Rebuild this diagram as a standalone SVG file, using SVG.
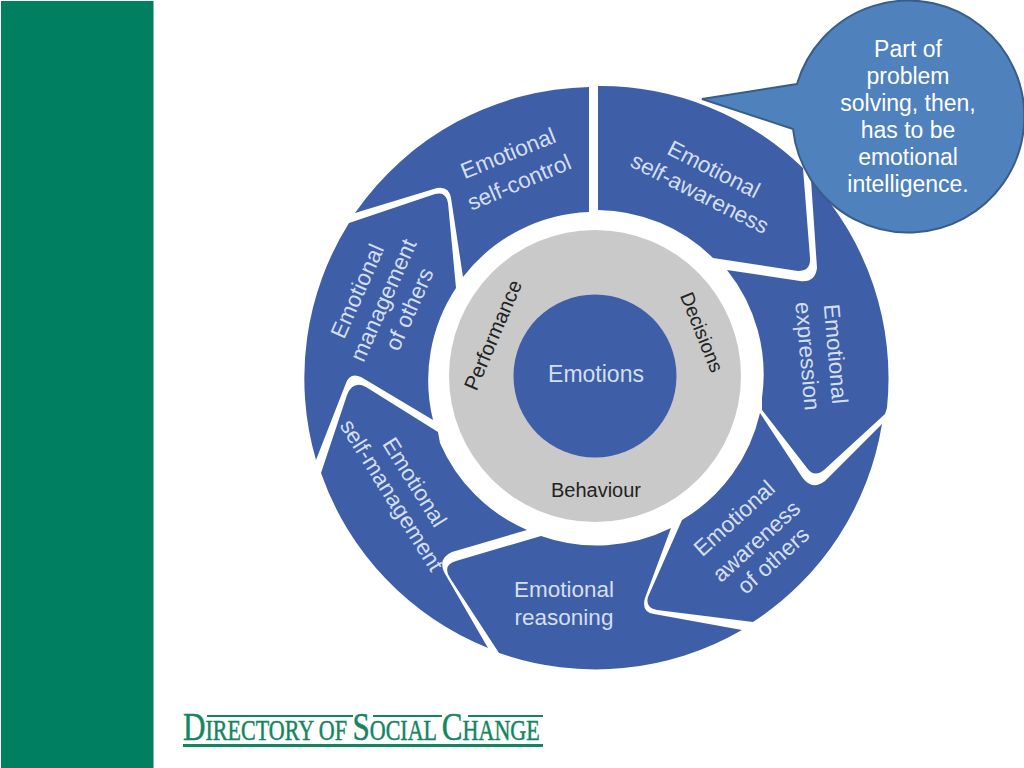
<svg xmlns="http://www.w3.org/2000/svg" width="1024" height="768" viewBox="0 0 1024 768">
<style>
.seg{fill:#3f5ea8}
.lbl{font-family:"Liberation Sans",Arial,sans-serif;font-size:22.500px;fill:#d3dff0;text-anchor:middle}
.dark{font-family:"Liberation Sans",Arial,sans-serif;font-size:20px;fill:#222;text-anchor:middle}
.call{font-family:"Liberation Sans",Arial,sans-serif;font-size:23px;fill:#fff;text-anchor:middle}
.logo{font-family:"Liberation Serif","Times New Roman",serif;fill:#13865f;stroke:#13865f;stroke-width:.5;font-size:29px}
.cap{font-size:41px}
</style>
<rect width="1024" height="768" fill="#fff"/>
<rect id="band" x="1" y="1" width="152.500" height="767" fill="#008060"/>
<g id="hub">
<circle cx="595" cy="376" r="146" fill="#c9c9c9"/>
<circle cx="595" cy="376" r="81.500" fill="#3f5ea8"/>
<text class="lbl" x="596" y="382" style="font-size:23px">Emotions</text>
<text class="dark" transform="translate(493 335) rotate(-67)" y="7" style="font-size:20.500px">Performance</text>
<text class="dark" transform="translate(702 332) rotate(68)" y="7" style="font-size:19.500px">Decisions</text>
<text class="dark" x="596" y="497">Behaviour</text>
</g>
<g id="self-awareness">
<path class="seg" d="M598 86A292 292 0 0 1 803 168L810 258Q811 271 798 271L713 258A167 167 0 0 0 598 210Z"/>
<text class="lbl" transform="translate(714 169) rotate(27)" y="8">Emotional</text>
<text class="lbl" transform="translate(700 193) rotate(27)" y="8">self-awareness</text>
</g>
<g id="expression">
<path class="seg" d="M727 270L800 281Q815 283 817 268L811 180A292 292 0 0 1 887 408L885 414L824 470Q814 478 807 468L762 410L762 398A167 167 0 0 0 727 270Z"/>
<text class="lbl" transform="translate(836 354) rotate(85)" y="8">Emotional</text>
<text class="lbl" transform="translate(808 356) rotate(85)" y="8">expression</text>
</g>
<g id="awareness-of-others">
<path class="seg" d="M760 413L802 477Q812 491 825 481L882 424A292 292 0 0 1 753 622L657 610Q645 608 648 597L682 520A167 167 0 0 0 760 413Z"/>
<text class="lbl" transform="translate(734 518) rotate(-42)" y="8">Emotional</text>
<text class="lbl" transform="translate(756 541) rotate(-42)" y="8">awareness</text>
<text class="lbl" transform="translate(773 560) rotate(-42)" y="8">of others</text>
</g>
<g id="reasoning">
<path class="seg" d="M671 528L645 598Q641 612 654 614L742 630A292 292 0 0 1 499 653L450 578Q442 565 456 561L541 536A167 167 0 0 0 671 528Z"/>
<text class="lbl" x="564" y="597">Emotional</text>
<text class="lbl" x="564" y="625">reasoning</text>
</g>
<g id="self-management">
<path class="seg" d="M527 530L452 552Q438 558 444 572L488 648A292 292 0 0 1 321 473L347 395Q353 380 366 387L438 432L440 443A167 167 0 0 0 527 530Z"/>
<text class="lbl" transform="translate(415 482) rotate(58)" y="8">Emotional</text>
<text class="lbl" transform="translate(392 495) rotate(58)" y="8">self-management</text>
</g>
<g id="management-of-others">
<path class="seg" d="M349 223L435 194Q446 191 448 203L456 288A167 167 0 0 0 433 420L361 377Q350 372 346 383L316 460A292 292 0 0 1 349 223Z"/>
<text class="lbl" transform="translate(357 291) rotate(-66)" y="8">Emotional</text>
<text class="lbl" transform="translate(383 300) rotate(-66)" y="8">management</text>
<text class="lbl" transform="translate(409 309) rotate(-66)" y="8">of others</text>
</g>
<g id="self-control">
<path class="seg" d="M589 87A292 292 0 0 0 355 213L437 188Q449 186 451 198L463 277A167 167 0 0 1 589 212Z"/>
<text class="lbl" transform="translate(508 153) rotate(-22)" y="8">Emotional</text>
<text class="lbl" transform="translate(519 182) rotate(-23)" y="8">self-control</text>
</g>
<g id="callout">
<path d="M797 84L702 99L793 129A116 116 0 1 0 797 84Z" fill="#4f81bd" stroke="#385d8a" stroke-width="2"/>
<text class="call" x="908" y="57">Part of</text>
<text class="call" x="908" y="84">problem</text>
<text class="call" x="908" y="111">solving, then,</text>
<text class="call" x="908" y="138">has to be</text>
<text class="call" x="908" y="165">emotional</text>
<text class="call" x="908" y="192">intelligence.</text>
</g>
<g id="logo">
<rect x="207" y="715" width="146" height="2" fill="#13865f"/>
<rect x="373" y="715" width="69" height="2" fill="#13865f"/>
<rect x="468" y="715" width="75" height="2" fill="#13865f"/>
<rect x="183" y="744" width="360" height="3" fill="#13865f"/>
<text class="logo" transform="translate(183 740) scale(.76 1)"><tspan class="cap">D</tspan>IRECTORY OF <tspan class="cap">S</tspan>OCIAL <tspan class="cap">C</tspan>HANGE</text>
</g>
</svg>
